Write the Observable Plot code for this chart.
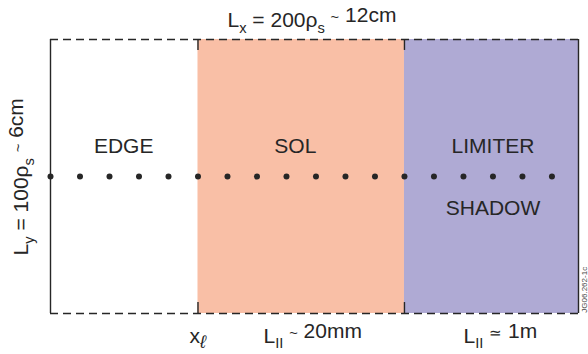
<!DOCTYPE html>
<html><head><meta charset="utf-8">
<script src="https://cdn.jsdelivr.net/npm/d3@7"></script>
<script src="https://cdn.jsdelivr.net/npm/@observablehq/plot@0.6"></script>
<style>body{margin:0;background:#fff} svg{font-family:"Liberation Sans",Arial,Helvetica,sans-serif}</style>
</head><body><div id="chart"></div>
<script>
// Regions across the radial (x) direction, in units of dot spacing
const regionNames = ["EDGE", "SOL", "LIMITER"];
const regionStart = [0, 5, 12];
const regionEnd = [5, 12, 17.9];
const regionFill = ["#ffffff", "#f9bfa6", "#afaad4"];
// Probe points along the midplane
const dotX = [0, 1, 2, 3, 4, 5, 6, 7, 8, 9, 10, 11, 12, 13, 14, 15, 16, 17];
const dotY = [0.5];
// Text labels (_{..} = subscript, ~{..} = small symbol)
const topLabel = "L_{x} = 200ρ_{s} ~{~} 12cm";
const leftLabel = "L_{y} = 100ρ_{s} ~{~} 6cm";
const bottomLabels = ["x_{ℓ}", "L_{II} ~{~} 20mm", "L_{II} ~{≃} 1m"];
const extraRegionLabel = "SHADOW";
const figureId = "JG06.262-1c";

const regions = regionNames.map((name, i) => ({name, x1: regionStart[i], x2: regionEnd[i], fill: regionFill[i]}));
const dots = dotX.map(x => ({x, y: dotY[0]}));
const xMax = regionEnd[regionEnd.length - 1];
const ink = "#262626";
const FS = 21;

const plot = Plot.plot({
  width: 588, height: 354,
  margin: 0,
  x: {domain: [0, xMax], range: [50, 578], axis: null},
  y: {domain: [0, 1], range: [313, 39], axis: null},
  style: {fontFamily: '"Liberation Sans",Arial,sans-serif', background: "#fff"},
  marks: [
    Plot.rect(regions, {x1: "x1", x2: "x2", y1: 0, y2: 1, fill: "fill"}),
    Plot.ruleY([0, 1], {x1: 0, x2: xMax, stroke: ink, strokeWidth: 1.4, strokeDasharray: "8,5"}),
    Plot.ruleX([0, xMax], {y1: 0, y2: 1, stroke: ink, strokeWidth: 1.4}),
    Plot.ruleX([regionStart[1], regionStart[2]], {y1: 0.96, y2: 1, stroke: ink, strokeWidth: 1.4}),
    Plot.ruleX([regionStart[1], regionStart[2]], {y1: 0, y2: 0.04, stroke: ink, strokeWidth: 1.4}),
    Plot.dot(dots, {x: "x", y: "y", r: 3, fill: ink, stroke: "none"}),
    Plot.text(regions, {x: [2.48, 8.3, 15.0], y: 0.584, text: "name", fontSize: FS, fill: ink, lineAnchor: "bottom"}),
    Plot.text([extraRegionLabel], {x: 15.0, y: 0.361, text: d => d, fontSize: FS, fill: ink, lineAnchor: "bottom"}),
    Plot.text([topLabel], {x: 6.0, y: 1.047, text: d => d, fontSize: FS, fill: ink, textAnchor: "start", lineAnchor: "bottom"}),
    Plot.text([leftLabel], {x: -0.746, y: 0.212, text: d => d, fontSize: FS, fill: ink, rotate: -90, textAnchor: "start", lineAnchor: "bottom"}),
    Plot.text(bottomLabels, {x: [4.71, 7.22, 14.0], y: -0.106, text: d => d, fontSize: FS, fill: ink, textAnchor: "start", lineAnchor: "bottom"}),
    Plot.text([figureId], {x: 18.2, y: 0.003, text: d => d, fontSize: 8, fill: "#444", rotate: -90, textAnchor: "start", lineAnchor: "bottom"})
  ]
});

// Convert markup into tspans (still real text)
d3.select(plot).selectAll("text").each(function() {
  const t = this.textContent;
  if (!t.includes("_{") && !t.includes("~{")) return;
  const fs = FS;
  const parts = t.split(/([_~]\{[^}]*\})/).filter(s => s.length);
  this.textContent = "";
  let shifted = false;
  const lift = fs * 0.24;
  for (const p of parts) {
    const ts = document.createElementNS("http://www.w3.org/2000/svg", "tspan");
    if (p.startsWith("_{")) {
      ts.textContent = p.slice(2, -1);
      ts.setAttribute("font-size", fs * 0.7);
      ts.setAttribute("dy", fs * 0.28);
      if (p.includes("ℓ")) { ts.setAttribute("font-style", "italic"); ts.setAttribute("font-size", fs * 0.85); }
      shifted = true;
    } else if (p.startsWith("~{")) {
      ts.textContent = p.slice(2, -1);
      ts.setAttribute("font-size", fs * 0.7);
      ts.setAttribute("dy", -fs * 0.28 * (shifted ? 1 : 0) - lift);
      shifted = false;
      this.appendChild(ts);
      const back = document.createElementNS("http://www.w3.org/2000/svg", "tspan");
      back.setAttribute("dy", lift);
      back.textContent = "";
      this.appendChild(back);
      continue;
    } else {
      ts.textContent = p;
      if (shifted) { ts.setAttribute("dy", -fs * 0.28); shifted = false; }
    }
    this.appendChild(ts);
  }
});

document.getElementById("chart").appendChild(plot);
</script></body></html>
